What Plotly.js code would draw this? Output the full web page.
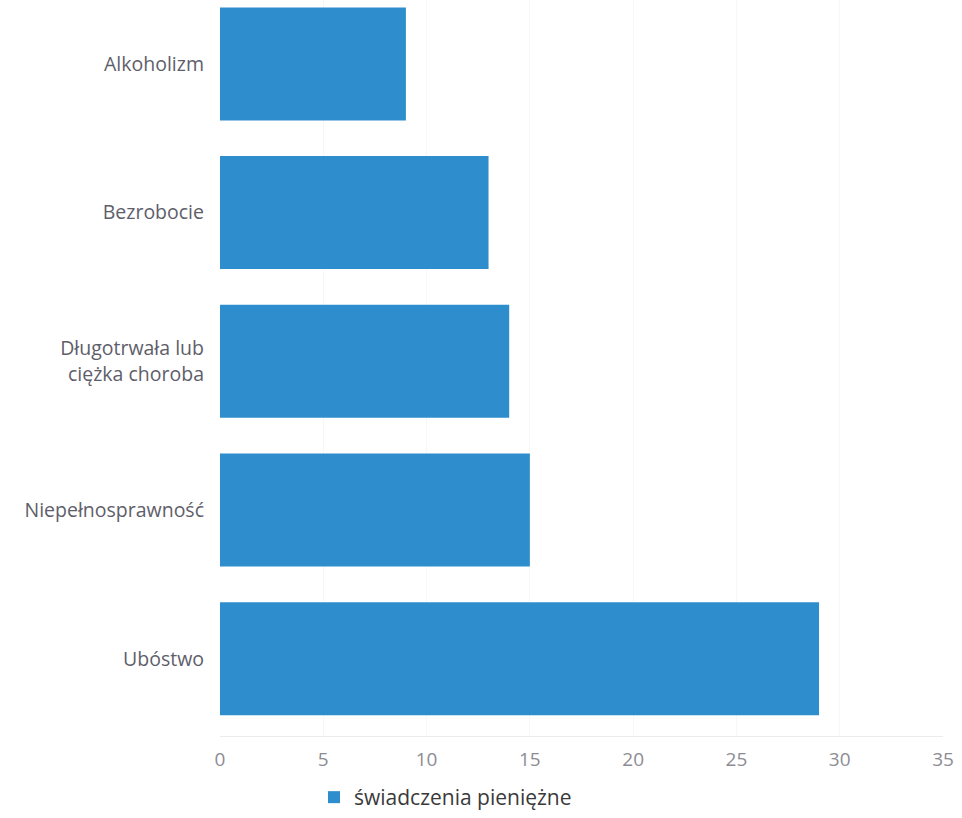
<!DOCTYPE html>
<html>
<head>
<meta charset="utf-8">
<script src="https://cdn.plot.ly/plotly-3.0.1.min.js"></script>
<style>html,body{margin:0;padding:0;background:#fff;}#chart{width:962px;height:818px;}</style>
</head>
<body>
<div id="chart"></div>
<script>
const categories = ["Ubóstwo", "Niepełnosprawność", "Długotrwała lub<br>ciężka choroba", "Bezrobocie", "Alkoholizm"];
const values = [29, 15, 14, 13, 9];
const seriesName = "świadczenia pieniężne";
const xTicks = [0, 5, 10, 15, 20, 25, 30, 35];

const trace = {
  type: "bar",
  orientation: "h",
  y: categories,
  x: values,
  name: seriesName,
  marker: { color: "#2e8ecd", line: { width: 0 } },
  hoverinfo: "x+y"
};

const layout = {
  width: 962, height: 818,
  margin: { l: 220, r: 19, t: 0, b: 78 },
  paper_bgcolor: "#ffffff",
  plot_bgcolor: "#ffffff",
  bargap: 0.24,
  showlegend: true,
  legend: {
    orientation: "h", x: 0.13, xanchor: "left", y: -0.056, yanchor: "top",
    font: { family: "Open Sans, sans-serif", size: 21, color: "#3a3a3a" },
    itemwidth: 30
  },
  xaxis: {
    range: [0, 35],
    tickvals: xTicks,
    ticktext: xTicks.map(String),
    showgrid: true, gridcolor: "#f7f7f7",
    zeroline: false,
    showline: true, linecolor: "#ececec", linewidth: 1,
    ticks: "", ticklabelstandoff: 6,
    tickfont: { family: "Open Sans, sans-serif", size: 19, color: "#8c8c94" },
    fixedrange: true
  },
  yaxis: {
    type: "category",
    range: [-0.52, 4.43],
    showgrid: false, zeroline: false, showline: false,
    ticks: "", ticklabelstandoff: 15,
    tickfont: { family: "Open Sans, sans-serif", size: 19.5, color: "#5e5e6a" },
    fixedrange: true
  }
};

Plotly.newPlot("chart", [trace], layout, { displayModeBar: false, staticPlot: true });
</script>
</body>
</html>
